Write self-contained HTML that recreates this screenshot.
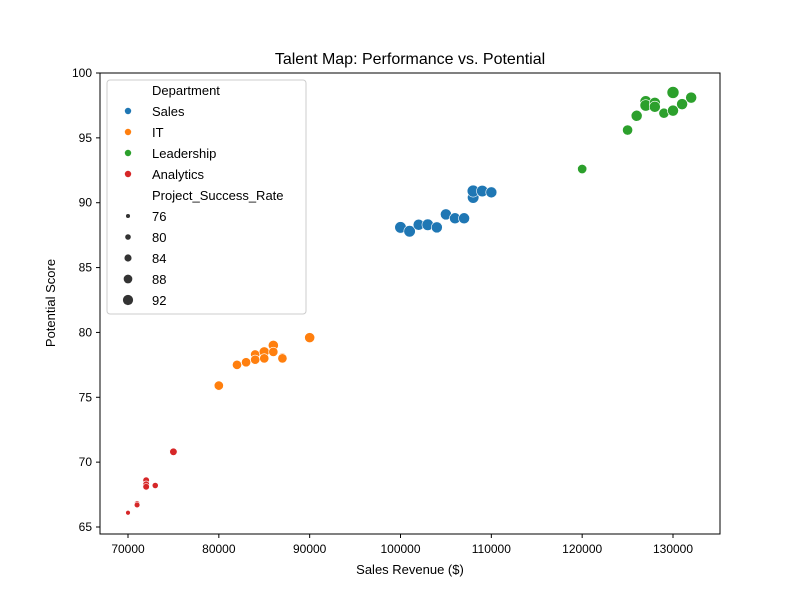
<!DOCTYPE html>
<html><head><meta charset="utf-8"><style>body{margin:0;background:#fff}svg{font-family:"Liberation Sans","DejaVu Sans",sans-serif}</style></head>
<body>
<svg id="chart" width="800" height="600">
<rect width="800" height="600" fill="#fff"/>
<text x="410" y="64" text-anchor="middle" font-size="16">Talent Map: Performance vs. Potential</text>
<rect x="100" y="73" width="620" height="461" fill="none" stroke="#000" stroke-width="1"/>
<g id="axes"></g>
<g id="points"></g>
<text x="410" y="574" text-anchor="middle" font-size="13">Sales Revenue ($)</text>
<text x="55" y="303" text-anchor="middle" font-size="13" transform="rotate(-90 55 303)">Potential Score</text>
<g id="legend"></g>
</svg>
<script>
const departments=["Sales","IT","Leadership","Analytics"];
const colors=["#1f77b4","#ff7f0e","#2ca02c","#d62728"];
const salesX=[100000,101000,102000,103000,104000,105000,106000,107000,108000,108000,109000,110000];
const salesY=[88.1,87.8,88.3,88.3,88.1,89.1,88.8,88.8,90.4,90.9,90.9,90.8];
const salesS=[91,91,90,91,90,90,90,90,91,92,91,90];
const itX=[80000,82000,83000,84000,84000,85000,85000,86000,86000,87000,87000,90000];
const itY=[75.9,77.5,77.7,78.3,77.9,78.5,78.0,79.0,78.5,78.1,78.0,79.6];
const itS=[86,86,86,86,86,88,86,88,86,84,86,88];
const leadX=[120000,125000,126000,127000,127000,128000,128000,129000,130000,130000,131000,132000];
const leadY=[92.6,95.6,96.7,97.8,97.5,97.7,97.4,96.9,98.5,97.1,97.6,98.1];
const leadS=[86,88,90,91,91,90,90,88,92,90,90,90];
const anX=[70000,71000,71000,72000,72000,72000,73000,75000];
const anY=[66.1,66.8,66.7,68.6,68.3,68.1,68.2,70.8];
const anS=[76,78,78,80,80,80,79,82];
const xTicks=[70000,80000,90000,100000,110000,120000,130000];
const yTicks=[65,70,75,80,85,90,95,100];
const sizeLegend=[76,80,84,88,92];

const NS="http://www.w3.org/2000/svg";
function sx(v){return 128+(v-70000)*(545/60000);}
function sy(v){return 527-(v-65)*(454/35);}
function sr(s){return 2.4+(s-76)*(3.6/16);}
function mk(tag,attrs,parent){const e=document.createElementNS(NS,tag);for(const k in attrs)e.setAttribute(k,attrs[k]);parent.appendChild(e);return e;}
const axes=document.getElementById('axes');
xTicks.forEach(t=>{
  const l=mk('line',{x1:sx(t),x2:sx(t),y1:534,y2:538,stroke:'#000'},axes);
  
  
  const tx=mk('text',{x:sx(t),y:553,'text-anchor':'middle','font-size':12},axes);
  tx.textContent=t;
  
  
});
yTicks.forEach(t=>{
  const l=mk('line',{x1:96,x2:100,y1:sy(t),y2:sy(t),stroke:'#000'},axes);
  
  
  const tx=mk('text',{x:92,y:sy(t)+4,'text-anchor':'end','font-size':12},axes);
  tx.textContent=t;
  
  
});
const pts=document.getElementById('points');
const series=[[salesX,salesY,salesS],[itX,itY,itS],[leadX,leadY,leadS],[anX,anY,anS]];
series.forEach((s,i)=>{
  s[0].forEach((x,j)=>{
    const c=mk('circle',{cx:sx(x),cy:sy(s[1][j]),r:sr(s[2][j]),fill:colors[i],stroke:'#fff','stroke-width':0.6},pts);
    
    
  });
});
const lg=document.getElementById('legend');
const box=mk('rect',{x:107,y:80,width:199,height:234,rx:3,fill:'#fff','fill-opacity':0.8,stroke:'#ccc'},lg);


function ltext(t,y,x){const e=mk('text',{x:x,y:y,'font-size':13},lg);e.textContent=t;return e;}
ltext('Department',95,152);
departments.forEach((d,i)=>{
  const y=111+i*21;
  const c=mk('circle',{cx:128,cy:y,r:3.2,fill:colors[i]},lg);
  
  
  ltext(d,y+5,152);
});
ltext('Project_Success_Rate',200,152);
sizeLegend.forEach((s,i)=>{
  const y=216+i*21;
  const c=mk('circle',{cx:128,cy:y,r:sr(s)*0.85,fill:'#333'},lg);
  
  
  ltext(String(s),y+5,152);
});
</script>
</body></html>
